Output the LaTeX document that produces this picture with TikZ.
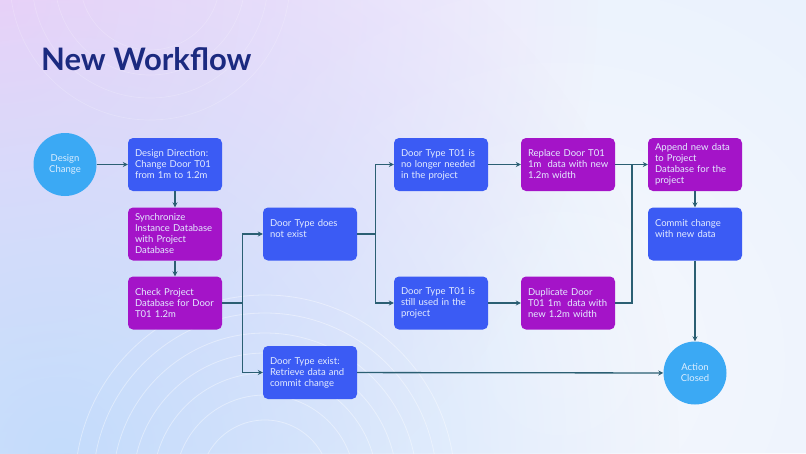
\documentclass[tikz,border=0pt]{standalone}
\usepackage{fontspec}
\setmainfont{Lato}
\usetikzlibrary{fadings,arrows.meta}
\tikzfading[name=glowfade, inner color=transparent!0, outer color=transparent!100]
\definecolor{bluebox}{HTML}{3B5BF4}
\definecolor{magbox}{HTML}{A414C8}
\definecolor{circc}{HTML}{3BA9F4}
\definecolor{linec}{HTML}{2B5F73}
\definecolor{boxtext}{HTML}{E4ECFF}
\definecolor{circtext}{HTML}{DDEEFF}
\definecolor{titlec}{HTML}{1B2A80}
\definecolor{bgbase}{HTML}{E8F1FD}
\definecolor{bgpink}{HTML}{F5CEF8}
\definecolor{bgblue}{HTML}{C4DCFB}
\definecolor{bgwhite}{HTML}{F6F8FE}
\begin{document}
\begin{tikzpicture}[x=1pt,y=-1pt,
  boxbase/.style={rounded corners=5pt, minimum width=94pt, minimum height=53pt,
    text width=80pt, align=left, inner sep=0pt, text=boxtext,
    font=\fontsize{9.5}{11}\selectfont},
  bluenode/.style={boxbase, fill=bluebox},
  magnode/.style={boxbase, fill=magbox},
  circnode/.style={circle, fill=circc, minimum size=63pt, inner sep=0pt,
    align=center, text=circtext, font=\fontsize{9.5}{11}\selectfont},
  conn/.style={draw=linec, line width=1.3pt},
  arr/.style={conn, -{Stealth[length=5pt,width=5pt]}}
]
\useasboundingbox (0,0) rectangle (806,453);
% background
\begin{scope}
\clip (0,0) rectangle (806,453);
\fill[bgbase] (0,0) rectangle (806,453);
\fill[bgwhite, path fading=glowfade] (560,360) circle (520);
\fill[bgpink, path fading=glowfade] (0,0) circle (600);
\fill[bgblue, path fading=glowfade] (60,453) circle (620);
\begin{scope}[draw=white, line width=0.8pt, opacity=0.4]
\foreach \r in {65,90,112,132,152,172,190}
  \draw (265,485) circle (\r);
\end{scope}
\begin{scope}[draw=white, line width=0.7pt, opacity=0.2]
\foreach \r in {70,95,118,140}
  \draw (150,-20) circle (\r);
\end{scope}
\end{scope}
% title
\node[anchor=base west, inner sep=0pt, text=titlec,
  font=\fontsize{31}{36}\selectfont\bfseries] (title) at (41,70) {New Workflow};
% nodes
\node[circnode] (dc) at (65,164.5) {Design\\Change};
\node[bluenode] (b1) at (175,164.5) {Design Direction:\\Change Door T01\\from 1m to 1.2m};
\node[magnode] (b2) at (175,234) {Synchronize\\Instance Database\\with Project\\Database};
\node[magnode] (b3) at (175,303) {Check Project\\Database for Door\\T01 1.2m};
\node[bluenode] (ne) at (310,234) {Door Type does\\not exist\\\mbox{}};
\node[bluenode] (ex) at (310,372.5) {Door Type exist:\\Retrieve data and\\commit change};
\node[bluenode] (nl) at (441,164.5) {Door Type T01 is\\no longer needed\\in the project};
\node[bluenode] (su) at (441,303) {Door Type T01 is\\still used in the\\project};
\node[magnode] (rp) at (568,164.5) {Replace Door T01\\\mbox{1m\ \ data with new}\\1.2m width};
\node[magnode] (du) at (568,303) {Duplicate Door\\\mbox{T01 1m\ \ data with}\\new 1.2m width};
\node[magnode] (ap) at (695,164.5) {Append new data\\to Project\\Database for the\\project};
\node[bluenode] (cm) at (695,234) {Commit change\\with new data\\\mbox{}};
\node[circnode] (ac) at (695,373) {Action\\Closed};
\coordinate (mg) at (632,164.5);
% connectors
\draw[arr] (dc) -- (b1);
\draw[arr] (b1) -- (b2);
\draw[arr] (b2) -- (b3);
\draw[arr] (b3.east) -- ++(20,0) |- (ne.west);
\draw[arr] (b3.east) -- ++(20,0) |- (ex.west);
\draw[arr] (ne.east) -- ++(18,0) |- (nl.west);
\draw[arr] (ne.east) -- ++(18,0) |- (su.west);
\draw[arr] (nl) -- (rp);
\draw[arr] (su) -- (du);
\draw[arr] (rp) -- (ap);
\draw[conn] (du.east) -| (mg);
\draw[arr] (ap) -- (cm);
\draw[arr] (cm) -- (ac);
\draw[arr] (ex) -- (ac);
\end{tikzpicture}
\end{document}
